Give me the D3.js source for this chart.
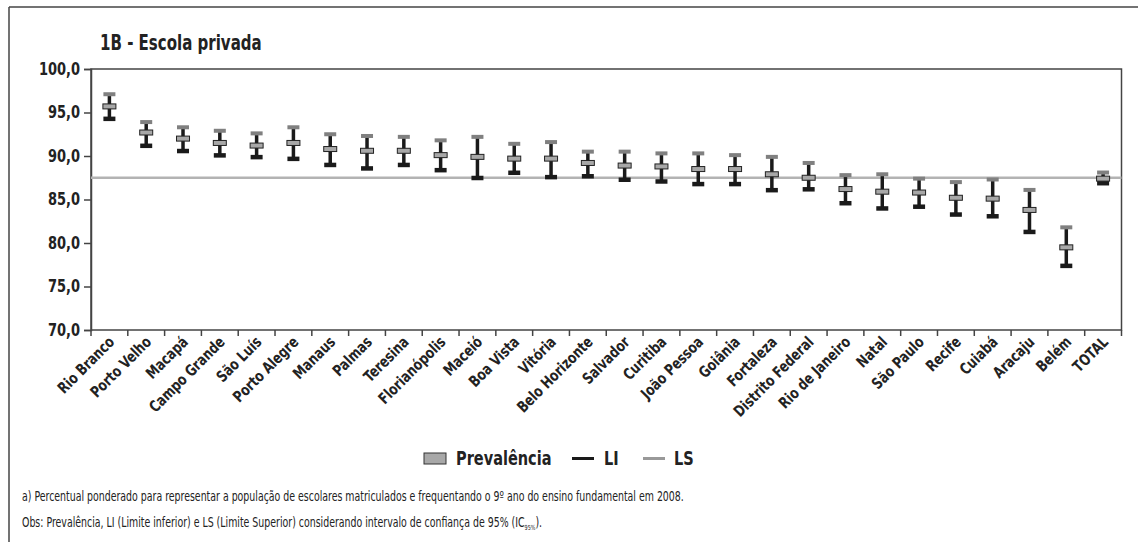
<!DOCTYPE html>
<html>
<head>
<meta charset="utf-8">
<script src="https://cdn.jsdelivr.net/npm/d3@7"></script>
<style>
  body { margin: 0; background: #fff; }
  svg { font-family: "DejaVu Sans Condensed", "Liberation Sans", sans-serif; }
</style>
</head>
<body>
<svg id="chart" width="1138" height="542"></svg>
<script>
// capitais + total
const cities = ["Rio Branco", "Porto Velho", "Macapá", "Campo Grande", "São Luís", "Porto Alegre",
    "Manaus", "Palmas", "Teresina", "Florianópolis", "Maceió", "Boa Vista", "Vitória",
    "Belo Horizonte", "Salvador", "Curitiba", "João Pessoa", "Goiânia", "Fortaleza",
    "Distrito Federal", "Rio de Janeiro", "Natal", "São Paulo", "Recife", "Cuiabá",
    "Aracaju", "Belém", "TOTAL"];
const prevalencia = [95.7, 92.7, 92.0, 91.5, 91.2, 91.5, 90.8, 90.6, 90.6, 90.1, 89.9, 89.7, 89.7,
    89.2, 88.9, 88.8, 88.5, 88.5, 87.9, 87.5, 86.2, 85.9, 85.8, 85.2, 85.1, 83.8, 79.5, 87.4];
const li = [94.3, 91.2, 90.6, 90.1, 89.9, 89.7, 89.0, 88.6, 89.0, 88.4, 87.5, 88.1, 87.6,
    87.7, 87.3, 87.1, 86.8, 86.8, 86.1, 86.2, 84.6, 84.0, 84.2, 83.3, 83.1, 81.3, 77.4, 86.9];
const ls = [97.1, 93.9, 93.3, 92.9, 92.6, 93.3, 92.5, 92.3, 92.2, 91.8, 92.2, 91.4, 91.6,
    90.5, 90.5, 90.3, 90.3, 90.1, 89.9, 89.2, 87.8, 87.9, 87.4, 87.0, 87.3, 86.1, 81.8, 88.1];
const totalLine = 87.5;
const yTicks = [70, 75, 80, 85, 90, 95, 100];

const data = cities.map((c, i) => ({ city: c, p: prevalencia[i], li: li[i], ls: ls[i] }));

const svg = d3.select("#chart");
const plotLeft = 91, plotRight = 1121.5, plotTop = 69, plotBottom = 330;

// texto estreito (fonte condensada simulada)
function narrowText(parent, tx, ty, sx, size, weight, str) {
    return parent.append("text")
        .attr("transform", `translate(${tx},${ty}) scale(${sx},1)`)
        .attr("font-size", size).attr("font-weight", weight).attr("fill", "#222")
        .text(str);
}

// moldura externa
svg.append("line").attr("x1", 9).attr("x2", 1138).attr("y1", 7).attr("y2", 7)
    .attr("stroke", "#444").attr("stroke-width", 1.5);
svg.append("line").attr("x1", 9).attr("x2", 9).attr("y1", 7).attr("y2", 542)
    .attr("stroke", "#444").attr("stroke-width", 1.5);

narrowText(svg, 100, 50, 0.76, 22, "bold", "1B - Escola privada");

const x = d3.scaleBand().domain(cities).range([plotLeft, plotRight]).padding(0);
const y = d3.scaleLinear().domain([70, 100]).range([plotBottom, plotTop]);

// borda do gráfico
svg.append("rect")
    .attr("x", plotLeft).attr("y", plotTop)
    .attr("width", plotRight - plotLeft).attr("height", plotBottom - plotTop)
    .attr("fill", "none").attr("stroke", "#444").attr("stroke-width", 1.5);

// eixo y
const yScaleX = 0.85;
const yAxis = svg.append("g")
    .attr("transform", `translate(${plotLeft},0)`)
    .call(d3.axisLeft(y).tickValues(yTicks).tickSize(7)
        .tickFormat(d => d3.format(".1f")(d).replace(".", ",")));
yAxis.select(".domain").attr("stroke", "#444").attr("stroke-width", 1.5);
yAxis.selectAll(".tick line").attr("stroke", "#444").attr("stroke-width", 1.5);
yAxis.selectAll(".tick text")
    .attr("font-size", 17).attr("font-weight", "bold").attr("fill", "#222")
    .attr("font-family", "'DejaVu Sans Condensed', sans-serif")
    .attr("transform", `scale(${yScaleX},1)`)
    .attr("x", -11 / yScaleX);

// eixo x: marcas nas bordas das categorias
const edges = cities.map(c => x(c)).concat([plotRight]);
svg.append("g").selectAll("line")
    .data(edges)
    .enter()
    .append("line")
    .attr("x1", d => d).attr("x2", d => d)
    .attr("y1", plotBottom).attr("y2", plotBottom + 6)
    .attr("stroke", "#444").attr("stroke-width", 1.5);

svg.append("g").selectAll("text")
    .data(cities)
    .enter()
    .append("text")
    .attr("transform", d => `translate(${x(d) + x.bandwidth() / 2 + 6},${plotBottom + 13}) rotate(-45) scale(0.86,1)`)
    .attr("text-anchor", "end")
    .attr("font-size", 15.5).attr("font-weight", "bold").attr("fill", "#222")
    .text(d => d);

// linha de referência (total)
svg.append("line")
    .attr("x1", plotLeft).attr("x2", plotRight)
    .attr("y1", y(totalLine)).attr("y2", y(totalLine))
    .attr("stroke", "#b3b3b3").attr("stroke-width", 2.5);

const g = svg.append("g").selectAll("g")
    .data(data)
    .enter()
    .append("g")
    .attr("transform", d => `translate(${x(d.city) + x.bandwidth() / 2},0)`);

g.append("line")
    .attr("x1", 0).attr("x2", 0)
    .attr("y1", d => y(d.li)).attr("y2", d => y(d.ls))
    .attr("stroke", "#1a1a1a").attr("stroke-width", 3.5);

g.append("rect")
    .attr("x", -6).attr("width", 12)
    .attr("y", d => y(d.ls) - 2).attr("height", 4)
    .attr("fill", "#808080");

g.append("rect")
    .attr("x", -6).attr("width", 12)
    .attr("y", d => y(d.li) - 2).attr("height", 4.5)
    .attr("fill", "#1a1a1a");

g.append("rect")
    .attr("x", -6.5).attr("width", 13)
    .attr("y", d => y(d.p) - 2.5).attr("height", 5)
    .attr("fill", "#a8a8a8").attr("stroke", "#222").attr("stroke-width", 1);

// legenda
const leg = svg.append("g");
leg.append("rect").attr("x", 424).attr("y", 453).attr("width", 22).attr("height", 11)
    .attr("fill", "#a8a8a8").attr("stroke", "#333").attr("stroke-width", 1);
narrowText(leg, 456, 465, 0.85, 19, "bold", "Prevalência");
leg.append("line").attr("x1", 572).attr("x2", 594).attr("y1", 458.5).attr("y2", 458.5)
    .attr("stroke", "#1a1a1a").attr("stroke-width", 3);
narrowText(leg, 604, 465, 0.85, 19, "bold", "LI");
leg.append("line").attr("x1", 643).attr("x2", 665).attr("y1", 458.5).attr("y2", 458.5)
    .attr("stroke", "#999").attr("stroke-width", 3);
narrowText(leg, 674, 465, 0.85, 19, "bold", "LS");

// notas
narrowText(svg, 22, 501, 0.775, 13.5, "normal",
    "a) Percentual ponderado para representar a população de escolares matriculados e frequentando o 9º ano do ensino fundamental em 2008.");
const obs = narrowText(svg, 22, 527, 0.775, 13.5, "normal",
    "Obs: Prevalência, LI (Limite inferior) e LS (Limite Superior) considerando intervalo de confiança de 95% (IC");
obs.append("tspan").attr("font-size", 7).attr("dy", 3).text("95%");
obs.append("tspan").attr("dy", -3).text(").");
</script>
</body>
</html>
